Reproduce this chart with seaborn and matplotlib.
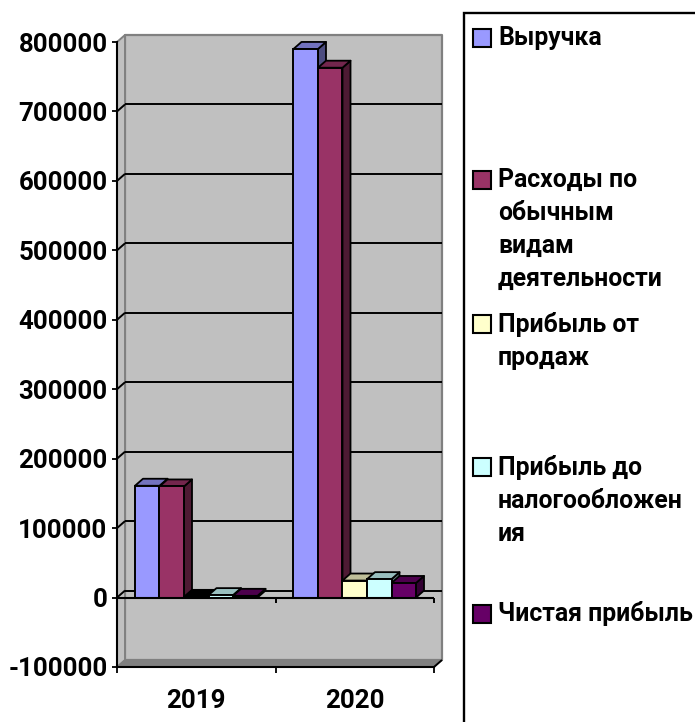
import matplotlib
matplotlib.use("Agg")
import matplotlib.pyplot as plt
import seaborn as sns
import pandas as pd
import numpy as np
from matplotlib.patches import Polygon, Rectangle
from matplotlib.lines import Line2D
from matplotlib.transforms import Affine2D

years = ["2019", "2020"]
series = ["Выручка", "Расходы по обычным видам деятельности", "Прибыль от продаж",
          "Прибыль до налогообложения", "Чистая прибыль"]
legend_labels = ["Выручка", "Расходы по\nобычным\nвидам\nдеятельности", "Прибыль от\nпродаж",
                 "Прибыль до\nналогообложен\nия", "Чистая прибыль"]
revenue = [161000, 790000]
expenses = [160000, 763000]
sales_profit = [1000, 24500]
pretax_profit = [3500, 26500]
net_profit = [2500, 21000]
colors = ["#9999FF", "#993366", "#FFFFCC", "#CCFFFF", "#660066"]
yticks = [-100000, 0, 100000, 200000, 300000, 400000, 500000, 600000, 700000, 800000]

df = pd.DataFrame({
    "year": years * 5,
    "series": sum([[s] * 2 for s in series], []),
    "value": revenue + expenses + sales_profit + pretax_profit + net_profit,
})

W, H = 695, 722
sns.set_theme(style="white")
plt.rcParams["font.family"] = ["Roboto", "DejaVu Sans"]
plt.rcParams["font.weight"] = "bold"
fig = plt.figure(figsize=(W / 100, H / 100), dpi=100)
ax = fig.add_axes([117 / W, (H - 667) / H, 317 / W, 625 / H])
ax.patch.set_visible(False)

sns.barplot(data=df, x="year", y="value", hue="series", order=years, hue_order=series,
            palette=colors, width=0.773, gap=0, saturation=1, legend=False, ax=ax,
            edgecolor="black", linewidth=1.4, zorder=5)
ax.set_xlim(-0.5, 1.5)
ax.set_ylim(-100000, 800000)
ax.set_xlabel("")
ax.set_ylabel("")

DX, DY = 8, 7
fig.canvas.draw()
to_px = ax.transData.transform
ident = Affine2D()


def shade(c, k):
    r = np.array(matplotlib.colors.to_rgb(c)) * k
    return tuple(r)


def poly(pts, fc, ec, lw, z):
    ax.add_patch(Polygon(pts, closed=True, fc=fc, ec=ec, lw=lw, transform=ident, clip_on=False, zorder=z,
                         joinstyle="round"))


def seg(xs, ys, color="black", lw=1.4, z=1):
    ax.add_line(Line2D(xs, ys, color=color, lw=lw, transform=ident, clip_on=False, zorder=z,
                       solid_capstyle="butt"))


(x0, y0), (x1, y1) = to_px([(-0.5, -100000), (1.5, 800000)])
poly([(x0 + DX, y0 + DY), (x1 + DX, y0 + DY), (x1 + DX, y1 + DY), (x0 + DX, y1 + DY)], "#C0C0C0", "#808080", 1.6, 0)
poly([(x0, y0), (x0 + DX, y0 + DY), (x0 + DX, y1 + DY), (x0, y1)], "#C0C0C0", "#808080", 1.4, 0.1)
poly([(x0, y0), (x1, y0), (x1 + DX, y0 + DY), (x0 + DX, y0 + DY)], "#808080", "#808080", 0.8, 0.2)

for v in yticks[1:-1]:
    _, yy = to_px((0, v))
    seg([x0 + DX, x1 + DX], [yy + DY, yy + DY], z=1)
    seg([x0, x0 + DX], [yy, yy + DY], z=1)

bars = sorted([p for p in ax.patches if isinstance(p, Rectangle) and p.get_zorder() == 5], key=lambda p: p.get_x())
for p in bars:
    (a, b), (c, d) = to_px([(p.get_x(), 0), (p.get_x() + p.get_width(), p.get_height())])
    col = p.get_facecolor()[:3]
    # the almost empty bar renders as a solid black sliver in the original
    k_top = 0.0 if d - b < 1 else 0.75
    poly([(c, b), (c + DX, b + DY), (c + DX, d + DY), (c, d)], shade(col, 0.5), "black", 1.3, 3)
    poly([(a, d), (c, d), (c + DX, d + DY), (a + DX, d + DY)], shade(col, k_top), "black", 1.3, 3)

_, yz = to_px((0, 0))
seg([x0, x1], [yz, yz], lw=1.5, z=6)
for t in [0.5, 1.5]:
    tx, _ = to_px((t, 0))
    seg([tx, tx], [yz, yz - 5], lw=1.4, z=6)
seg([x1, x1 + DX], [y0, y0 + DY], lw=1.4, z=2)

for s in ["top", "right"]:
    ax.spines[s].set_visible(False)
for s in ["left", "bottom"]:
    ax.spines[s].set_color("black")
    ax.spines[s].set_linewidth(1.5)
    ax.spines[s].set_zorder(6)

ax.set_yticks(yticks)
ax.set_yticklabels([str(v) for v in yticks])
ax.set_xticks([0, 1])
ax.set_xticklabels(years)
ax.set_xticks([-0.5, 0.5, 1.5], minor=True)
ax.tick_params(axis="y", which="major", length=3.6, width=1.3, color="black", pad=3.2, left=True,
               labelsize=18.6, labelcolor="black")
ax.tick_params(axis="x", which="major", length=0, pad=16, bottom=False, labelsize=18.6, labelcolor="black")
ax.tick_params(axis="x", which="minor", length=4.3, width=1.3, color="black", bottom=True)
for lab in ax.get_xticklabels() + ax.get_yticklabels():
    lab.set_fontweight("bold")

fig.add_artist(Rectangle((464 / W, -0.01), 0.5, (H - 13) / H + 0.01, fc="white", ec="black", lw=1.7,
                         transform=fig.transFigure, clip_on=True))
item_tops = [26, 168, 312, 455, 601]
marker_offset = [21, 21, 21, 21, 22]
for lab, c, top, mo in zip(legend_labels, colors, item_tops, marker_offset):
    fig.add_artist(Rectangle((473 / W, (H - top - mo) / H), 18 / W, 18 / H, fc=c, ec="black", lw=1.5,
                             transform=fig.transFigure))
    fig.text(498 / W, (H - top) / H, lab, ha="left", va="top", fontsize=17.8, fontweight="bold",
             color="black", linespacing=1.47)

fig.savefig("out.png", dpi=100)
